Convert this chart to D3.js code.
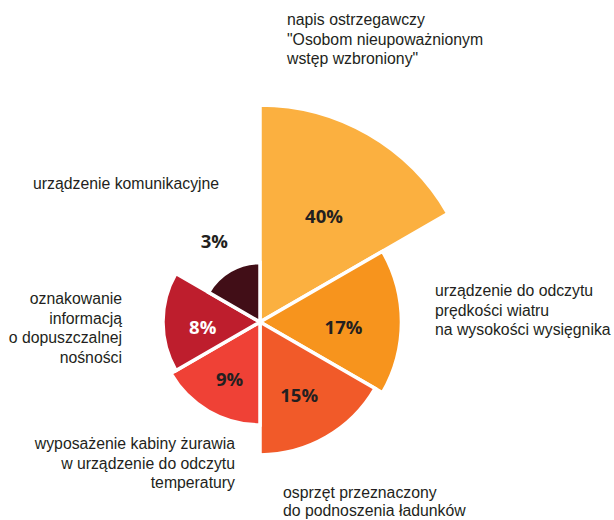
<!DOCTYPE html>
<html>
<head>
<meta charset="utf-8">
<script src="https://cdn.jsdelivr.net/npm/d3@7"></script>
<style>
html,body{margin:0;padding:0;background:#fff;}
svg{display:block;}
</style>
</head>
<body>
<svg id="chart" width="614" height="520"></svg>
<script>
// ---- data ----
const categories = [
  ["napis ostrzegawczy", "\"Osobom nieupoważnionym", "wstęp wzbroniony\""],
  ["urządzenie do odczytu", "prędkości wiatru", "na wysokości wysięgnika"],
  ["osprzęt przeznaczony", "do podnoszenia ładunków"],
  ["wyposażenie kabiny żurawia", "w urządzenie do odczytu", "temperatury"],
  ["oznakowanie", "informacją", "o dopuszczalnej", "nośności"],
  ["urządzenie komunikacyjne"]
];
const values = [40, 17, 15, 9, 8, 3];
const valueLabels = ["40%", "17%", "15%", "9%", "8%", "3%"];
const sliceColors = ["#FBB040", "#F7941D", "#F15A29", "#EF4136", "#BE1E2D", "#410E17"];
const valueLabelColors = ["#231F20", "#231F20", "#231F20", "#231F20", "#FFFFFF", "#231F20"];

// ---- layout ----
const svg = d3.select("#chart");
const cx = 260, cy = 322, maxR = 217;
const r = d3.scaleSqrt().domain([0, d3.max(values)]).range([0, maxR]);

const pie = d3.pie().value(() => 1).sort(null).startAngle(0).endAngle(2 * Math.PI);
const arcs = pie(values);
const arc = d3.arc().innerRadius(0).outerRadius(d => r(d.data));

const g = svg.append("g").attr("transform", `translate(${cx},${cy})`);

g.selectAll("path.slice")
  .data(arcs)
  .join("path")
  .attr("class", "slice")
  .attr("d", arc)
  .attr("fill", (d, i) => sliceColors[i])
  .attr("stroke", "#fff")
  .attr("stroke-width", 3.5)
  .attr("stroke-linejoin", "miter");

// value labels
g.selectAll("text.val")
  .data(arcs)
  .join("text")
  .attr("class", "val")
  .attr("transform", d => {
    const a = (d.startAngle + d.endAngle) / 2;
    const outside = d.data < 5;
    const rr = outside ? r(d.data) + 32 : r(d.data) * 0.59;
    const yOff = outside ? -1 : 5;
    return `translate(${Math.sin(a) * rr},${-Math.cos(a) * rr + yOff})`;
  })
  .attr("text-anchor", "middle")
  .attr("dy", "0.36em")
  .attr("font-family", "'Open Sans', sans-serif")
  .attr("font-weight", 700)
  .attr("font-size", 18.5)
  .attr("fill", (d, i) => valueLabelColors[i])
  .text((d, i) => valueLabels[i]);

// category labels (annotation placement)
const labelPos = [
  {x: 287, y: 25, anchor: "start", lh: 19.5},
  {x: 435, y: 296, anchor: "start", lh: 19.5},
  {x: 283, y: 498, anchor: "start", lh: 18},
  {x: 235, y: 449, anchor: "end", lh: 19.5},
  {x: 122, y: 304, anchor: "end", lh: 19.5},
  {x: 33, y: 189, anchor: "start", lh: 19.5}
];
categories.forEach((lines, i) => {
  const p = labelPos[i];
  const t = svg.append("text")
    .attr("x", p.x).attr("y", p.y)
    .attr("text-anchor", p.anchor)
    .attr("font-family", "'Liberation Sans', Arial, sans-serif")
    .attr("font-size", 15.8)
    .attr("fill", "#231F20");
  lines.forEach((l, j) => {
    t.append("tspan").attr("x", p.x).attr("y", p.y + j * p.lh).text(l);
  });
});
</script>
</body>
</html>
